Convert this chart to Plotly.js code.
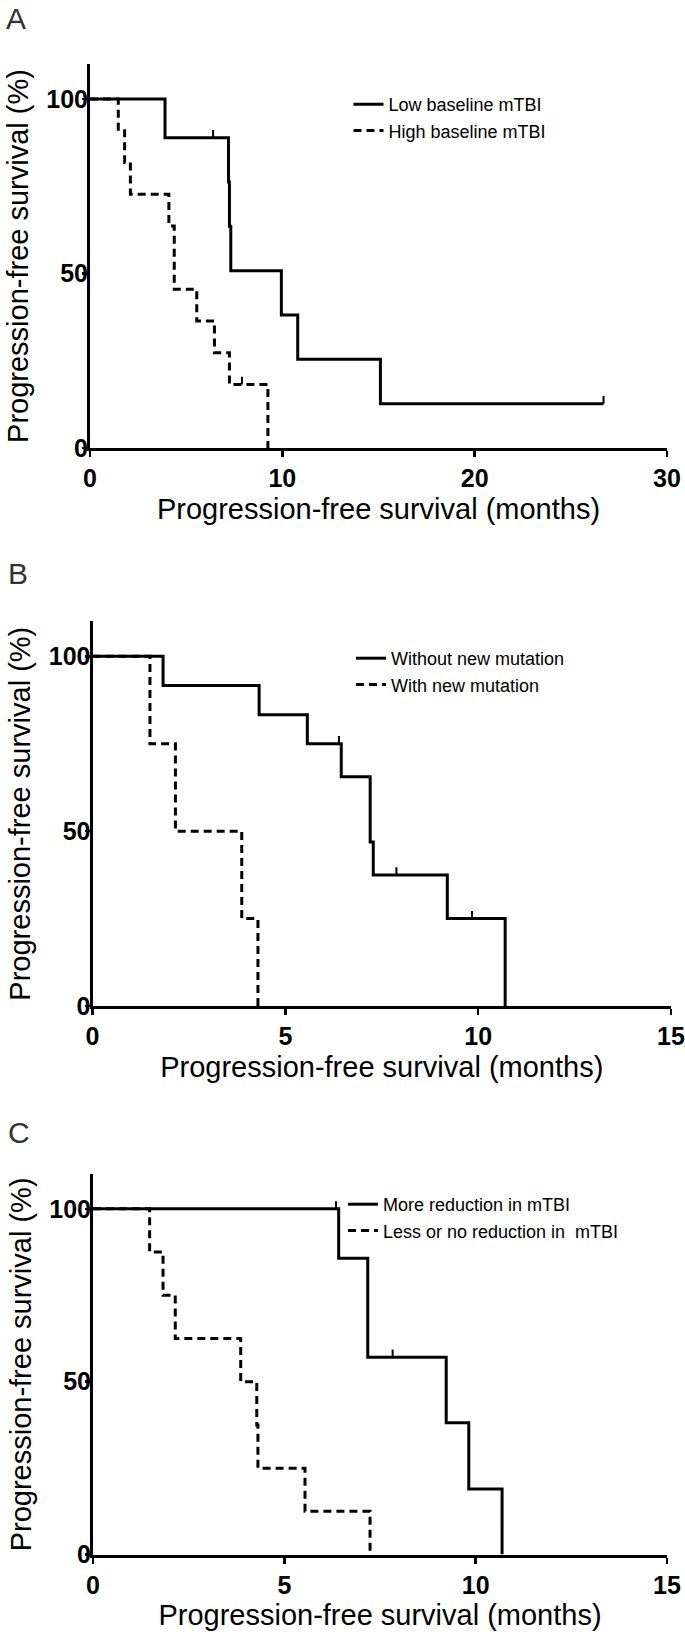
<!DOCTYPE html>
<html><head><meta charset="utf-8">
<script src="https://cdn.plot.ly/plotly-3.0.1.min.js"></script>
<style>html,body{margin:0;padding:0;background:#fff}#chart{width:685px;height:1639px}</style>
</head><body><div id="chart"></div><script>
// ---------- Panel A : baseline mTBI ----------
const lowBaselineName = 'Low baseline mTBI';
const lowBaselineTime = [0, 3.9, 7.2, 7.25, 7.32, 9.95, 10.8, 15.1, 26.7];
const lowBaselineSurv = [100, 88.9, 76.2, 63.5, 50.8, 38.1, 25.4, 12.7, 12.7];
const lowBaselineCensorTime = [6.4, 26.7];
const lowBaselineCensorSurv = [88.9, 12.7];

const highBaselineName = 'High baseline mTBI';
const highBaselineTime = [0, 1.47, 1.8, 2.1, 4.1, 4.38, 5.55, 6.47, 7.25, 9.25];
const highBaselineSurv = [100, 90.9, 81.8, 72.7, 63.6, 45.5, 36.4, 27.3, 18.2, 0];
const highBaselineCensorTime = [7.9];
const highBaselineCensorSurv = [18.2];

// ---------- Panel B : new mutation ----------
const withoutMutName = 'Without new mutation';
const withoutMutTime = [0, 1.83, 4.32, 5.57, 6.45, 7.2, 7.28, 9.2, 10.7];
const withoutMutSurv = [100, 91.7, 83.3, 75.0, 65.6, 46.9, 37.5, 25.0, 0];
const withoutMutCensorTime = [6.39, 7.88, 9.84];
const withoutMutCensorSurv = [75.0, 37.5, 25.0];

const withMutName = 'With new mutation';
const withMutTime = [0, 1.49, 2.15, 3.87, 4.29];
const withMutSurv = [100, 75, 50, 25, 0];

// ---------- Panel C : reduction in mTBI ----------
const moreRedName = 'More reduction in mTBI';
const moreRedTime = [0, 6.42, 7.18, 9.23, 9.82, 10.69];
const moreRedSurv = [100, 85.7, 57.1, 38.1, 19.0, 0];
const moreRedCensorTime = [6.35, 7.83];
const moreRedCensorSurv = [100, 57.1];

const lessRedName = 'Less or no reduction in  mTBI';
const lessRedTime = [0, 1.48, 1.83, 2.15, 3.86, 4.28, 4.31, 5.54, 7.24];
const lessRedSurv = [100, 87.5, 75, 62.5, 50, 37.5, 25, 12.5, 0];

const yTickVals = [0, 50, 100];
const xTickValsA = [0, 10, 20, 30];
const xTickValsBC = [0, 5, 10, 15];
const panelLetters = ['A', 'B', 'C'];
const xTitleText = 'Progression-free survival (months)';
const yTitleText = 'Progression-free survival (%)';

// ---------- styling / builders ----------
const TICK_UP = 2.2;
const DASH = '8px,5px';
function step(t, s, name, dash, n, legend) {
  return {x: t, y: s, name: name, mode: 'lines', type: 'scatter',
    line: {shape: 'hv', color: '#000', width: 3, dash: dash},
    xaxis: 'x' + (n === 1 ? '' : n), yaxis: 'y' + (n === 1 ? '' : n),
    legend: legend, hoverinfo: 'skip'};
}
function censor(t, s, n) {
  const xs = [], ys = [];
  t.forEach((v, i) => { xs.push(v, v, null); ys.push(s[i], s[i] + TICK_UP, null); });
  return {x: xs, y: ys, mode: 'lines', type: 'scatter', showlegend: false,
    line: {color: '#000', width: 2}, xaxis: 'x' + (n === 1 ? '' : n),
    yaxis: 'y' + (n === 1 ? '' : n), hoverinfo: 'skip'};
}

const data = [
  step(lowBaselineTime, lowBaselineSurv, lowBaselineName, 'solid', 1, 'legend'),
  step(highBaselineTime, highBaselineSurv, highBaselineName, DASH, 1, 'legend'),
  censor(lowBaselineCensorTime, lowBaselineCensorSurv, 1),
  censor(highBaselineCensorTime, highBaselineCensorSurv, 1),
  step(withoutMutTime, withoutMutSurv, withoutMutName, 'solid', 2, 'legend2'),
  step(withMutTime, withMutSurv, withMutName, DASH, 2, 'legend2'),
  censor(withoutMutCensorTime, withoutMutCensorSurv, 2),
  step(moreRedTime, moreRedSurv, moreRedName, 'solid', 3, 'legend3'),
  step(lessRedTime, lessRedSurv, lessRedName, DASH, 3, 'legend3'),
  censor(moreRedCensorTime, moreRedCensorSurv, 3)
];

const W = 685, H = 1639;
const fx = p => p / W, fy = p => 1 - p / H;
const FONT = 'Liberation Sans, Arial, Helvetica, sans-serif';

function xAxis(domain, range, ticks, anchor) {
  return {domain: domain, range: range, tickvals: ticks, ticktext: ticks.map(String),
    anchor: anchor, showline: true, linecolor: '#000', linewidth: 3, mirror: false,
    ticks: 'outside', ticklen: 6, tickwidth: 2.5, tickcolor: '#000',
    showgrid: false, zeroline: false, ticklabelstandoff: 0,
    tickfont: {family: FONT, size: 25, color: '#000', weight: 'bold'},
    title: {text: xTitleText, font: {family: FONT, size: 29, color: '#000'}, standoff: 8},
    fixedrange: true};
}
function yAxis(domain, anchor) {
  return {domain: domain, range: [0, 110], tickvals: yTickVals, ticktext: yTickVals.map(String),
    anchor: anchor, showline: true, linecolor: '#000', linewidth: 3,
    ticks: 'outside', ticklen: 5, tickwidth: 2.5, tickcolor: '#000',
    showgrid: false, zeroline: false, ticklabelstandoff: -11,
    tickfont: {family: FONT, size: 25, color: '#000', weight: 'bold'},
    title: {text: yTitleText, font: {family: FONT, size: 29, color: '#000'}, standoff: 10},
    fixedrange: true};
}
function legendAt(x, y) {
  return {x: fx(x), y: fy(y), xref: 'paper', yref: 'paper', xanchor: 'left', yanchor: 'top',
    bgcolor: 'rgba(0,0,0,0)', borderwidth: 0, font: {family: FONT, size: 18, color: '#000'},
    itemclick: false, itemdoubleclick: false};
}
const letterPos = [[16, 18], [17.5, 574], [18.5, 1132]];

const layout = {
  width: W, height: H, margin: {l: 0, r: 0, t: 0, b: 0},
  paper_bgcolor: '#fff', plot_bgcolor: '#fff', showlegend: true,
  font: {family: FONT, color: '#000'},
  xaxis: xAxis([fx(90), fx(667)], [0, 30], xTickValsA, 'y'),
  yaxis: yAxis([fy(448), fy(64)], 'x'),
  xaxis2: xAxis([fx(92.5), fx(671)], [0, 15], xTickValsBC, 'y2'),
  yaxis2: yAxis([fy(1006), fy(621.4)], 'x2'),
  xaxis3: xAxis([fx(93), fx(667)], [0, 15], xTickValsBC, 'y3'),
  yaxis3: yAxis([fy(1554.6), fy(1174.2)], 'x3'),
  legend: legendAt(348.5, 86),
  legend2: legendAt(351, 640),
  legend3: legendAt(343, 1186),
  annotations: panelLetters.map((L, i) => ({
    text: L, x: fx(letterPos[i][0]), y: fy(letterPos[i][1]), xref: 'paper', yref: 'paper',
    xanchor: 'center', yanchor: 'middle', showarrow: false,
    font: {family: FONT, size: 30, color: '#333'}}))
};

Plotly.newPlot('chart', data, layout, {displayModeBar: false, staticPlot: true});
</script></body></html>
